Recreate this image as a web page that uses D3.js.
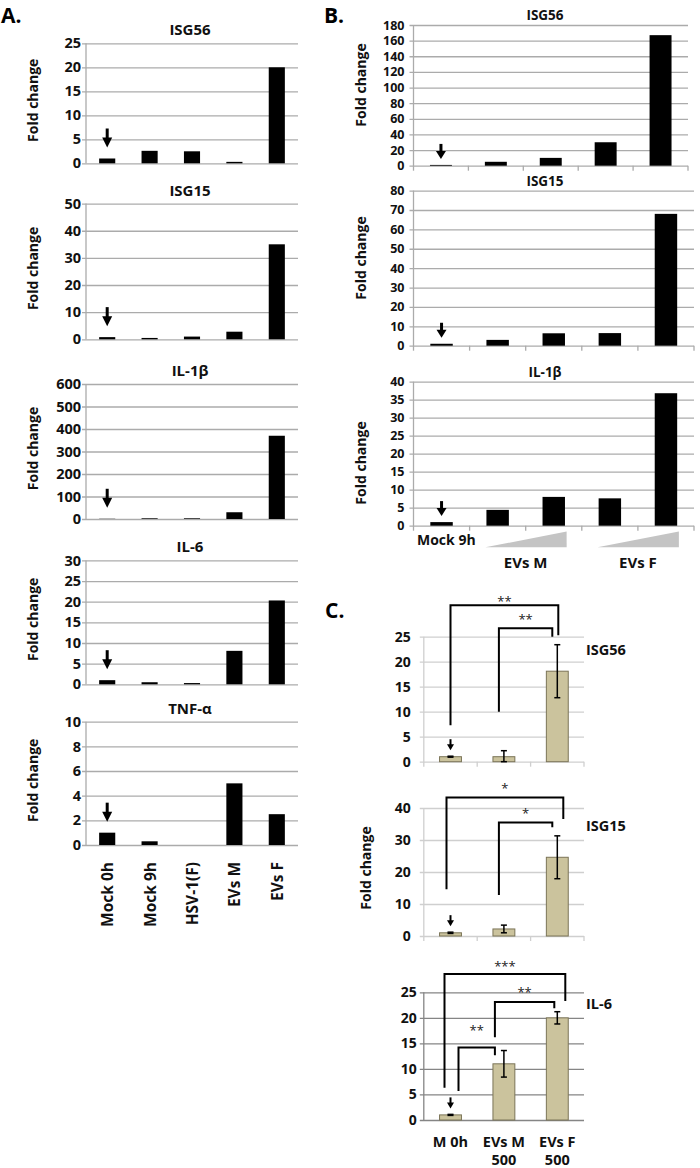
<!DOCTYPE html>
<html>
<head>
<meta charset="utf-8">
<script src="https://cdn.jsdelivr.net/npm/d3@7"></script>
<style>
body { margin: 0; background: #fff; }
text { font-family: "Open Sans", sans-serif; }
</style>
</head>
<body>
<script>

// ---- panel A: time course, single values ----
const catsA = ["Mock 0h", "Mock 9h", "HSV-1(F)", "EVs M", "EVs F"];
const genesA = ["ISG56", "ISG15", "IL-1β", "IL-6", "TNF-α"];
const isg56A = [1, 2.6, 2.5, 0.3, 20];
const isg15A = [0.8, 0.5, 1, 2.8, 35];
const il1bA = [1, 3, 3, 30, 370];
const il6A = [1, 0.5, 0.3, 8.1, 20.3];
const tnfA = [1, 0.3, 0, 5, 2.5];
const maxA = [25, 50, 600, 30, 10];
const stepA = [5, 10, 100, 5, 2];

// ---- panel B: dose response ----
const catsB = ["Mock 9h", "EVs M low", "EVs M high", "EVs F low", "EVs F high"];
const genesB = ["ISG56", "ISG15", "IL-1β"];
const isg56B = [1, 5, 10, 30, 167];
const isg15B = [1, 3, 6.4, 6.5, 68];
const il1bB = [1, 4.4, 8, 7.6, 36.8];
const maxB = [180, 80, 40];
const stepB = [20, 10, 5];

// ---- panel C: means with error bars ----
const catsC = ["M 0h", "EVs M 500", "EVs F 500"];
const genesC = ["ISG56", "ISG15", "IL-6"];
const isg56C = [1, 1, 18.1];
const isg56CErr = [0.1, 1.2, 5.3];
const isg15C = [1, 2.2, 24.6];
const isg15CErr = [0.2, 1.2, 6.7];
const il6C = [1, 11, 20];
const il6CErr = [0.1, 2.6, 1.2];
const maxC = [25, 40, 25];
const stepC = [5, 10, 5];
// significance: [from, to, bar top, left leg end, right leg end, stars]
const sigISG56 = [[0, 2, 31.3, 7.3, 25.3, "**"], [1, 2, 26.7, 10, 25, "**"]];
const sigISG15 = [[0, 2, 43.3, 14.6, 36.6, "*"], [1, 2, 35.5, 12.8, 34, "*"]];
const sigIL6 = [[0, 2, 28.6, 6.3, 23.3, "***"], [1, 2, 23.1, 16.2, 21.9, "**"], [0, 1, 14.2, 5.7, 12.7, "**"]];

const W = 700, H = 1168;
const svg = d3.select("body").append("svg")
    .attr("width", W)
    .attr("height", H);

function arrow(g, cx, tip, len, hw, hh, sw) {
    g.append("line")
        .attr("x1", cx).attr("x2", cx)
        .attr("y1", tip - len).attr("y2", tip - hh + 1)
        .attr("stroke", "#000").attr("stroke-width", sw);
    g.append("path")
        .attr("d", `M${cx - hw / 2},${tip - hh}L${cx + hw / 2},${tip - hh}L${cx},${tip}Z`)
        .attr("fill", "#000");
}

function drawPanel(p) {
    const g = svg.append("g");
    const x = d3.scaleBand().domain(p.cats).range([p.left, p.right])
        .paddingInner(p.pad).paddingOuter(p.pad / 2);
    const y = d3.scaleLinear().domain([0, p.max]).range([p.bottom, p.top]);
    const w = p.right - p.left;

    // gridlines + tick labels (axis sits on the right so lines run left past the y axis)
    const ax = g.append("g")
        .attr("transform", `translate(${p.right},0)`)
        .call(d3.axisLeft(y)
            .tickValues(d3.range(0, p.max + p.step / 2, p.step))
            .tickSize(w + 4)
            .tickPadding(p.tickPad));
    ax.select(".domain").remove();
    ax.selectAll("line").attr("stroke", p.grid).attr("stroke-width", 1.3);
    ax.selectAll("text")
        .attr("font-size", p.tickFont)
        .attr("font-weight", 700)
        .attr("fill", "#111");

    // vertical axis
    g.append("line")
        .attr("x1", p.left).attr("x2", p.left)
        .attr("y1", p.top).attr("y2", p.bottom + (p.xTicks ? 5 : 0))
        .attr("stroke", p.grid).attr("stroke-width", 1.3);

    if (p.xTicks) {
        g.selectAll(".xt")
            .data(p.cats)
            .enter()
            .append("line")
            .attr("x1", d => x(d) + x.bandwidth() + x.step() * p.pad / 2)
            .attr("x2", d => x(d) + x.bandwidth() + x.step() * p.pad / 2)
            .attr("y1", p.bottom)
            .attr("y2", p.bottom + 5)
            .attr("stroke", p.grid).attr("stroke-width", 1.3);
    }

    // bars
    g.selectAll(".bar")
        .data(p.values)
        .enter()
        .append("rect")
        .attr("x", (d, i) => x(p.cats[i]))
        .attr("width", x.bandwidth())
        .attr("y", d => y(d))
        .attr("height", d => p.bottom - y(d))
        .attr("fill", p.fill)
        .attr("stroke", p.stroke || "none")
        .attr("stroke-width", 1);

    // error bars
    if (p.errs) {
        p.values.forEach((v, i) => {
            const cx = x(p.cats[i]) + x.bandwidth() / 2;
            const e = p.errs[i];
            g.append("line").attr("x1", cx).attr("x2", cx)
                .attr("y1", y(Math.max(v - e, 0))).attr("y2", y(v + e))
                .attr("stroke", "#000").attr("stroke-width", 1.5);
            [v - e, v + e].forEach(t => {
                g.append("line").attr("x1", cx - 3).attr("x2", cx + 3)
                    .attr("y1", y(Math.max(t, 0))).attr("y2", y(Math.max(t, 0)))
                    .attr("stroke", "#000").attr("stroke-width", 1.5);
            });
        });
    }

    // arrow over first bar
    const a = p.arrow;
    const top0 = y(p.values[0] + (p.errs ? p.errs[0] : 0));
    arrow(g, x(p.cats[0]) + x.bandwidth() / 2, top0 - a.gap, a.len, a.hw, a.hh, a.sw);

    // title
    g.append("text")
        .attr("x", p.titleX)
        .attr("y", p.titleY)
        .attr("text-anchor", p.titleAnchor || "middle")
        .attr("font-size", p.titleFont)
        .attr("font-weight", 700)
        .attr("fill", "#111")
        .text(p.title);

    // y label
    if (p.ylabel) {
        g.append("text")
            .attr("transform", `translate(${p.ylabelX},${p.ylabelY}) rotate(-90)`)
            .attr("text-anchor", "middle")
            .attr("dominant-baseline", "central")
            .attr("font-size", 14)
            .attr("font-weight", 700)
            .attr("fill", "#111")
            .text("Fold change");
    }

    // significance brackets
    if (p.sig) {
        p.sig.forEach((s, k) => {
            const cx0 = x(p.cats[s[0]]) + x.bandwidth() / 2 + p.sigDx[k][0];
            const cx1 = x(p.cats[s[1]]) + x.bandwidth() / 2 + p.sigDx[k][1];
            g.append("path")
                .attr("d", `M${cx0},${y(s[3])}V${y(s[2])}H${cx1}V${y(s[4])}`)
                .attr("fill", "none")
                .attr("stroke", "#000")
                .attr("stroke-width", 2);
            g.append("text")
                .attr("x", (cx0 + cx1) / 2)
                .attr("y", y(s[2]) + p.sigDx[k][2])
                .attr("text-anchor", "middle")
                .attr("font-size", 13)
                .attr("fill", "#222")
                .text(s[5]);
        });
    }
    return { x, y };
}

// ---- panel A ----
const valuesA = [isg56A, isg15A, il1bA, il6A, tnfA];
const topsA = [43.3, 203.6, 384, 560.4, 721.7];
const botsA = [163.3, 339.3, 519, 684.3, 845];
let xA;
genesA.forEach((gene, i) => {
    const r = drawPanel({
        cats: catsA, values: valuesA[i], max: maxA[i], step: stepA[i],
        left: 86, right: 298, top: topsA[i], bottom: botsA[i],
        pad: 0.62, grid: "#ababab", tickFont: 14.5, tickPad: 1,
        fill: "#000", arrow: { gap: 11, len: 19, hw: 10, hh: 10, sw: 3 },
        title: gene, titleX: 190, titleY: topsA[i] - 8, titleFont: 15,
        ylabel: true, ylabelX: 32, ylabelY: (topsA[i] + botsA[i]) / 2 - 3
    });
    xA = r.x;
});
svg.selectAll(".xlabA")
    .data(catsA)
    .enter()
    .append("text")
    .attr("transform", d => `translate(${xA(d) + xA.bandwidth() / 2},862) rotate(-90)`)
    .attr("text-anchor", "end")
    .attr("dominant-baseline", "central")
    .attr("font-size", 15.5)
    .attr("font-weight", 700)
    .attr("fill", "#111")
    .text(d => d);

// ---- panel B ----
const valuesB = [isg56B, isg15B, il1bB];
const topsB = [25, 190.6, 381.7];
const botsB = [165.7, 345.7, 525.7];
const rightsB = [688, 694, 694];
const ylabYB = [85, 258, 463];
let xB;
genesB.forEach((gene, i) => {
    const r = drawPanel({
        cats: catsB, values: valuesB[i], max: maxB[i], step: stepB[i],
        left: 413.5, right: rightsB[i], top: topsB[i], bottom: botsB[i],
        pad: 0.6, grid: "#ababab", tickFont: 12.5, tickPad: 5, xTicks: true,
        fill: "#000", arrow: { gap: 6, len: 15, hw: 10, hh: 8, sw: 3 },
        title: gene, titleX: 545, titleY: topsB[i] - 5, titleFont: 13.5,
        ylabel: true, ylabelX: 360, ylabelY: ylabYB[i]
    });
    xB = r.x;
});
svg.append("text")
    .attr("x", 417).attr("y", 545)
    .attr("font-size", 14).attr("font-weight", 700).attr("fill", "#111")
    .text("Mock 9h");
[[1, 2, "EVs M"], [3, 4, "EVs F"]].forEach(([a, b, lab]) => {
    const s = xB(catsB[a]) - xB.step() * 0.02;
    const e = xB(catsB[b]) + xB.step() * 0.43;
    svg.append("path")
        .attr("d", `M${s},547.3L${e},547.3L${e},531.5Z`)
        .attr("fill", "#c4c4c4");
    svg.append("text")
        .attr("x", (xB(catsB[a]) + xB(catsB[b]) + xB.bandwidth()) / 2)
        .attr("y", 568)
        .attr("text-anchor", "middle")
        .attr("font-size", 15).attr("font-weight", 700).attr("fill", "#111")
        .text(lab);
});

// ---- panel C ----
const valuesC = [isg56C, isg15C, il6C];
const errsC = [isg56CErr, isg15CErr, il6CErr];
const sigsC = [sigISG56, sigISG15, sigIL6];
const sigDxC = [
    [[0, 1, 1], [-5, -5, -4]],
    [[-4, 6, -4], [-5, -5, -4]],
    [[-6, 8, -3], [-9, -3, -5], [8, -9, -12]]
];
const topsC = [636.7, 808, 992.3];
const botsC = [761.7, 936, 1120];
const gridC = ["#cfcfcf", "#cfcfcf", "#858585"];
const labYC = [655, 831, 1009];
let xC;
genesC.forEach((gene, i) => {
    const r = drawPanel({
        cats: catsC, values: valuesC[i], errs: errsC[i], max: maxC[i], step: stepC[i],
        left: 423.8, right: 584, top: topsC[i], bottom: botsC[i],
        pad: 0.59, grid: gridC[i], tickFont: 14, tickPad: i === 2 ? 3 : 9, xTicks: i < 2,
        fill: "#cbc39d", stroke: "#7b7457",
        arrow: { gap: 6, len: 11, hw: 7, hh: 6, sw: 2 },
        title: gene, titleX: 586, titleY: labYC[i], titleAnchor: "start", titleFont: 14.5,
        ylabel: i === 1, ylabelX: 365, ylabelY: 868,
        sig: sigsC[i], sigDx: sigDxC[i]
    });
    xC = r.x;
});
catsC.forEach(c => {
    const cut = c.lastIndexOf(" ");
    const parts = c === "M 0h" ? [c] : [c.slice(0, cut), c.slice(cut + 1)];
    const t = svg.append("text")
        .attr("x", xC(c) + xC.bandwidth() / 2)
        .attr("y", 1146.5)
        .attr("text-anchor", "middle")
        .attr("font-size", 14.5).attr("font-weight", 700).attr("fill", "#111");
    parts.forEach((s, k) => {
        t.append("tspan")
            .attr("x", xC(c) + xC.bandwidth() / 2)
            .attr("dy", k === 0 ? 0 : 18.5)
            .text(s);
    });
});

// panel letters
[["A.", 1, 23], ["B.", 324, 23], ["C.", 325, 618]].forEach(([t, lx, ly]) => {
    svg.append("text")
        .attr("x", lx).attr("y", ly)
        .attr("font-size", 21).attr("font-weight", 700).attr("fill", "#000")
        .text(t);
});

</script>
</body>
</html>
